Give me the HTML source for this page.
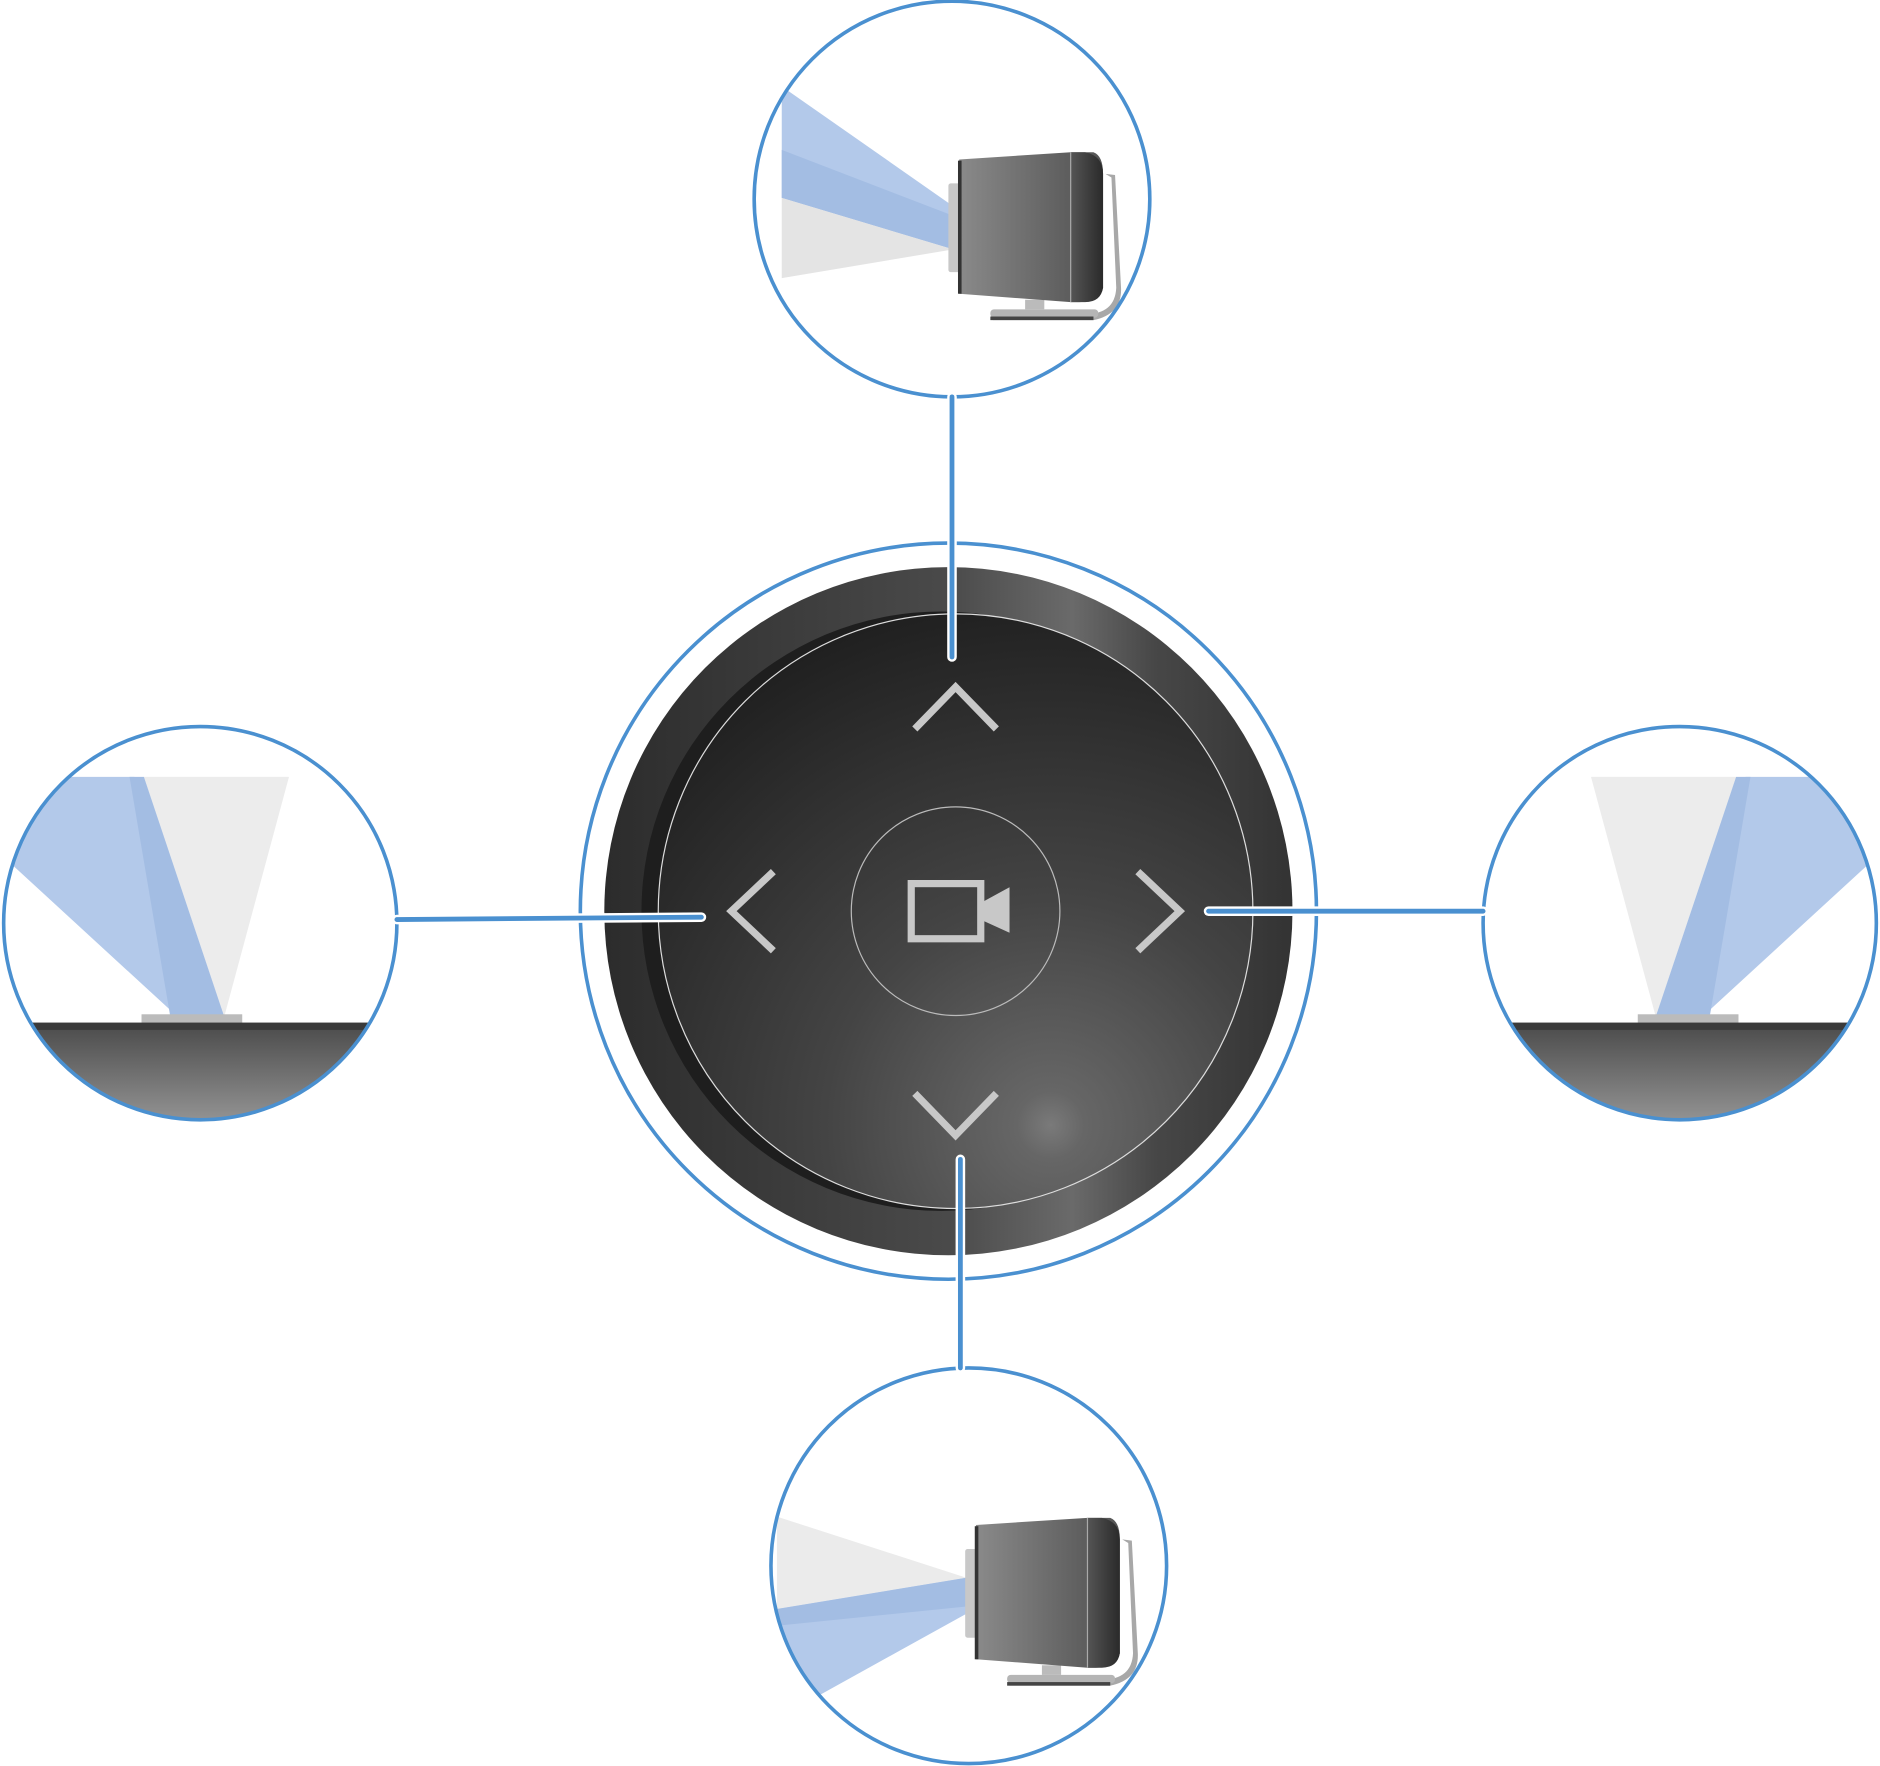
<!DOCTYPE html>
<html><head><meta charset="utf-8"><style>html,body{margin:0;padding:0;background:#fff}svg{display:block}</style></head>
<body>
<svg width="1880" height="1766" viewBox="0 0 1568 1473" xmlns="http://www.w3.org/2000/svg">
<defs>
<linearGradient id="body" x1="0" x2="1" y1="0" y2="0">
<stop offset="0" stop-color="#8a8a8a"/><stop offset="0.75" stop-color="#5e5e5e"/><stop offset="1" stop-color="#555"/></linearGradient>
<linearGradient id="back" x1="0" x2="1"><stop offset="0" stop-color="#555"/><stop offset="1" stop-color="#2a2a2a"/></linearGradient>
<linearGradient id="floor" x1="0" x2="0" y1="0" y2="1"><stop offset="0" stop-color="#4a4a4a"/><stop offset="1" stop-color="#9a9a9a"/></linearGradient>
<linearGradient id="ring" x1="0" x2="1"><stop offset="0" stop-color="#2c2c2c"/><stop offset="0.5" stop-color="#4a4a4a"/><stop offset="0.68" stop-color="#6a6a6a"/><stop offset="0.8" stop-color="#474747"/><stop offset="1" stop-color="#333"/></linearGradient>
<radialGradient id="face" cx="0.66" cy="0.86" r="0.95"><stop offset="0" stop-color="#7a7a7a"/><stop offset="0.06" stop-color="#666"/><stop offset="0.4" stop-color="#444"/><stop offset="1" stop-color="#1c1c1c"/></radialGradient>
<clipPath id="cT"><circle cx="794" cy="166" r="164"/></clipPath>
<clipPath id="cL"><circle cx="167" cy="770" r="163"/></clipPath>
<clipPath id="cR"><circle cx="1401" cy="770" r="163"/></clipPath>
<clipPath id="cB"><circle cx="808" cy="1306" r="164"/></clipPath>
<g id="proj">
<path d="M922 145 L927 148 L931 240 Q930 262 905 262 L830 262 L828 267 L912 267 Q936 262 935 240 L930 146 Z" fill="#a8a8a8"/>
<rect x="826" y="258" width="90" height="7" rx="3" fill="#b5b5b5"/>
<rect x="826" y="264" width="86" height="3" fill="#444"/>
<rect x="855" y="250" width="16" height="8" fill="#bbb"/>
<rect x="791" y="153" width="10" height="74" rx="2" fill="#c8c8c8"/>
<path d="M800 133 L893 127 L912 127 Q920 130 920 145 L920 240 Q918 252 900 252 L893 252 L800 245 Z" fill="url(#body)"/>
<path d="M893 127 L905 127 Q920 130 920 145 L920 240 Q918 252 905 252 L893 252 Z" fill="url(#back)"/>
<line x1="893" y1="127" x2="893" y2="252" stroke="#aaa" stroke-width="1"/>
<rect x="799" y="134" width="3" height="111" fill="#333"/>
</g>
<g id="side">
<polygon points="120,648 241,648 187,848" fill="#ececec"/>
<polygon points="0,712 50,648 112,648 187,848 148,848" fill="#b3c9ea"/>
<polygon points="108,648 120,648 187,848 142,848" fill="#a3bde3"/>
<rect x="118" y="846" width="84" height="8" fill="#bbb"/>
<rect x="0" y="853" width="340" height="90" fill="url(#floor)"/>
<rect x="0" y="853" width="340" height="6" fill="#3a3a3a"/>
</g>
</defs>

<g clip-path="url(#cT)">
<polygon points="652,72 652,165 795,208 795,172" fill="#b3c9ea"/>
<polygon points="652,125 652,165 795,208 795,180" fill="#a3bde3"/>
<polygon points="652,165 795,208 652,232" fill="#e4e4e4"/>
<use href="#proj"/>
</g>
<circle cx="794" cy="166" r="165" fill="none" stroke="#4a90d0" stroke-width="3"/>

<g clip-path="url(#cL)"><use href="#side"/></g>
<circle cx="167" cy="770" r="164" fill="none" stroke="#4a90d0" stroke-width="3"/>

<g clip-path="url(#cR)"><g transform="translate(1568,0) scale(-1,1)"><use href="#side"/></g></g>
<circle cx="1401" cy="770" r="164" fill="none" stroke="#4a90d0" stroke-width="3"/>

<g clip-path="url(#cB)">
<polygon points="648,1265 806,1316 648,1342" fill="#ebebeb"/>
<polygon points="648,1342 806,1316 806,1346 685,1413 648,1413" fill="#b3c9ea"/>
<polygon points="648,1342 806,1316 806,1340 648,1356" fill="#a3bde3"/>
<use href="#proj" transform="translate(14,1139)"/>
</g>
<circle cx="808" cy="1306" r="165" fill="none" stroke="#4a90d0" stroke-width="3"/>

<circle cx="791" cy="760" r="307" fill="none" stroke="#4a90d0" stroke-width="3"/>
<circle cx="791" cy="760" r="287" fill="url(#ring)"/>
<circle cx="785" cy="760" r="250" fill="#1e1e1e"/>
<circle cx="797" cy="760" r="248" fill="url(#face)" stroke="#ddd" stroke-width="1"/>
<circle cx="797" cy="760" r="87" fill="none" stroke="#bbb" stroke-width="1"/>
<g fill="none" stroke="#c8c8c8" stroke-width="6">
<polyline points="763,608 797,573 831,608"/>
<polyline points="763,912 797,947 831,912"/>
<polyline points="645,727 610,760 645,793"/>
<polyline points="949,727 984,760 949,793"/>
<rect x="760" y="737" width="58" height="46"/>
</g>
<polygon points="820,752 842,740 842,778 820,768" fill="#c8c8c8"/>

<g stroke="#4a90d0" stroke-width="4" fill="none" stroke-linecap="round">
<line x1="794" y1="331" x2="794" y2="548" stroke="#fff" stroke-width="8"/>
<line x1="794" y1="331" x2="794" y2="548"/>
<line x1="801" y1="967" x2="801" y2="1141" stroke="#fff" stroke-width="8"/>
<line x1="801" y1="967" x2="801" y2="1141"/>
<polyline points="331,767 450,766 585,765" stroke="#fff" stroke-width="8"/>
<polyline points="331,767 450,766 585,765"/>
<polyline points="1008,760 1237,760" stroke="#fff" stroke-width="8"/>
<polyline points="1008,760 1237,760"/>
</g>
</svg>
</body></html>
